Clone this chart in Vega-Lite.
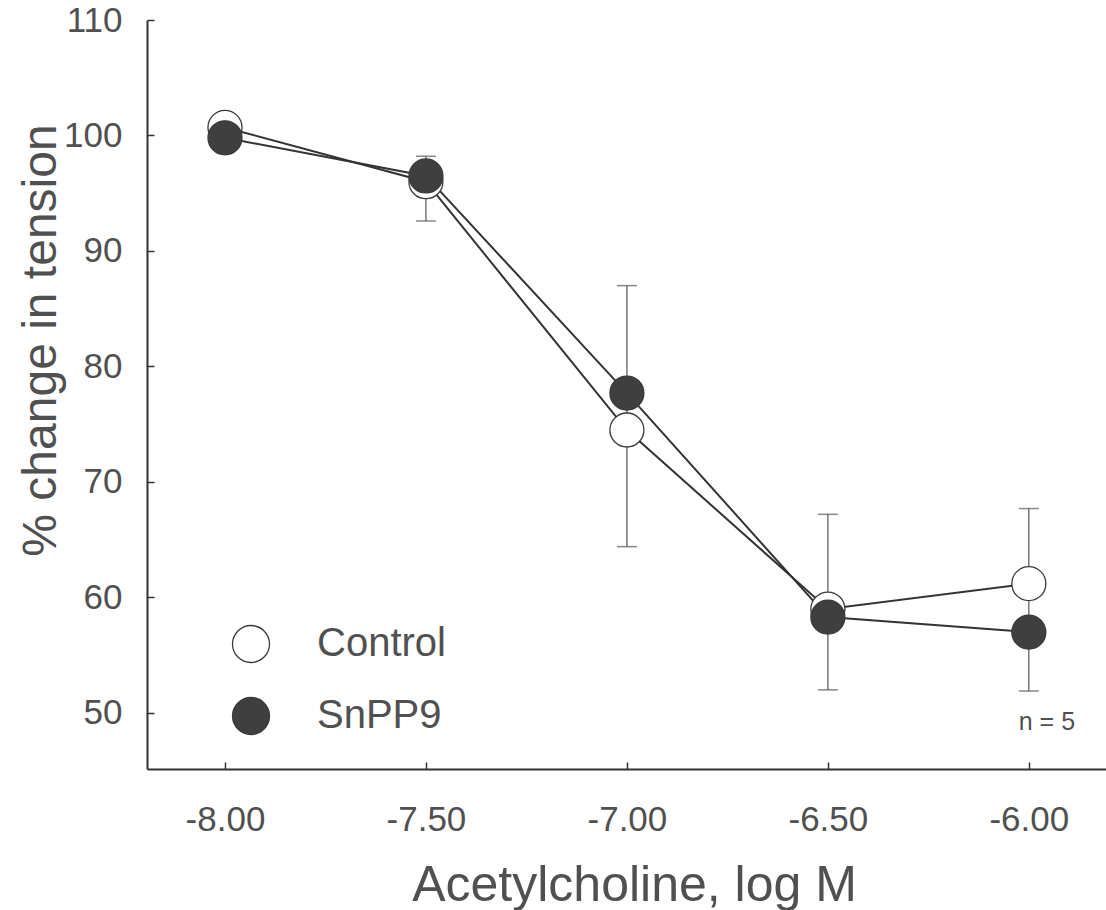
{
  "$schema": "https://vega.github.io/schema/vega-lite/v6.json",
  "width": 959,
  "height": 749,
  "autosize": {"type": "none"},
  "padding": {"left": 147, "top": 20, "right": 0, "bottom": 141},
  "background": "white",
  "config": {
    "view": {"stroke": null},
    "font": "Liberation Sans",
    "axis": {
      "grid": false,
      "domainColor": "#333333",
      "domainWidth": 2,
      "tickColor": "#333333",
      "tickWidth": 1.5,
      "tickSize": -7,
      "labelFont": "Liberation Sans",
      "labelColor": "#505050",
      "labelFontSize": 35,
      "titleFont": "Liberation Sans",
      "titleColor": "#505050",
      "titleFontWeight": "normal"
    }
  },
  "datasets": {
    "main": [
      {"logM": -8.0, "value": 100.7, "series": "Control"},
      {"logM": -7.5, "value": 96.0, "series": "Control"},
      {"logM": -7.0, "value": 74.5, "series": "Control"},
      {"logM": -6.5, "value": 59.0, "series": "Control"},
      {"logM": -6.0, "value": 61.2, "series": "Control"},
      {"logM": -8.0, "value": 99.8, "series": "SnPP9"},
      {"logM": -7.5, "value": 96.5, "series": "SnPP9"},
      {"logM": -7.0, "value": 77.7, "series": "SnPP9"},
      {"logM": -6.5, "value": 58.3, "series": "SnPP9"},
      {"logM": -6.0, "value": 57.0, "series": "SnPP9"}
    ],
    "err": [
      {"logM": -7.5, "lo": 92.6, "hi": 98.2},
      {"logM": -7.0, "lo": 64.4, "hi": 87.0},
      {"logM": -6.5, "lo": 52.0, "hi": 67.2},
      {"logM": -6.0, "lo": 51.9, "hi": 67.7}
    ],
    "note": [
      {"logM": -5.955, "value": 49.2, "label": "n = 5"}
    ]
  },
  "layer": [
    {
      "data": {"name": "err"},
      "mark": {"type": "rule", "color": "#555555", "strokeWidth": 1.2},
      "encoding": {
        "x": {
          "field": "logM", "type": "quantitative",
          "scale": {"domain": [-8.194, -5.808], "nice": false, "zero": false},
          "axis": {
            "values": [-8, -7.5, -7, -6.5, -6],
            "labelExpr": "replace(format(datum.value, '.2f'), '\u2212', '-')",
            "labelPadding": 40,
            "title": "Acetylcholine, log M",
            "titleFontSize": 50,
            "titleBaseline": "alphabetic",
            "titleX": 487,
            "titleY": 131
          }
        },
        "y": {
          "field": "lo", "type": "quantitative",
          "scale": {"domain": [45.15, 110], "nice": false, "zero": false},
          "axis": {
            "values": [50, 60, 70, 80, 90, 100, 110],
            "labelPadding": 32,
            "labelBaseline": "middle",
            "title": "% change in tension",
            "titleFontSize": 48,
            "titleAngle": 270,
            "titleAlign": "center",
            "titleBaseline": "alphabetic",
            "titleX": -92,
            "titleY": 320
          }
        },
        "y2": {"field": "hi"}
      }
    },
    {
      "data": {"name": "err"},
      "transform": [{"fold": ["lo", "hi"], "as": ["end", "v"]}],
      "mark": {"type": "tick", "orient": "horizontal", "color": "#555555", "size": 20, "thickness": 1.5},
      "encoding": {
        "x": {"field": "logM", "type": "quantitative"},
        "y": {"field": "v", "type": "quantitative"}
      }
    },
    {
      "data": {"name": "main"},
      "mark": {"type": "line", "color": "#333333", "strokeWidth": 2},
      "encoding": {
        "x": {"field": "logM", "type": "quantitative"},
        "y": {"field": "value", "type": "quantitative"},
        "detail": {"field": "series"},
        "order": {"field": "logM"}
      }
    },
    {
      "data": {"name": "main"},
      "mark": {"type": "point", "shape": "circle", "filled": true, "size": 1156, "stroke": "#3a3a3a", "strokeWidth": 1.3, "opacity": 1},
      "encoding": {
        "x": {"field": "logM", "type": "quantitative"},
        "y": {"field": "value", "type": "quantitative"},
        "fill": {
          "field": "series", "type": "nominal",
          "scale": {"domain": ["Control", "SnPP9"], "range": ["#ffffff", "#3f3f3f"]},
          "legend": {
            "title": null,
            "orient": "none",
            "legendX": 84,
            "legendY": 604,
            "symbolType": "circle",
            "symbolSize": 1369,
            "symbolStrokeColor": "#3a3a3a",
            "symbolStrokeWidth": 1.3,
            "symbolOpacity": 1,
            "labelFont": "Liberation Sans",
            "labelFontSize": 40,
            "labelColor": "#505050",
            "labelOffset": 46,
            "rowPadding": 28
          }
        }
      }
    },
    {
      "data": {"name": "note"},
      "mark": {"type": "text", "fontSize": 25, "color": "#505050", "align": "center", "baseline": "middle", "font": "Liberation Sans"},
      "encoding": {
        "x": {"field": "logM", "type": "quantitative"},
        "y": {"field": "value", "type": "quantitative"},
        "text": {"field": "label"}
      }
    }
  ]
}
